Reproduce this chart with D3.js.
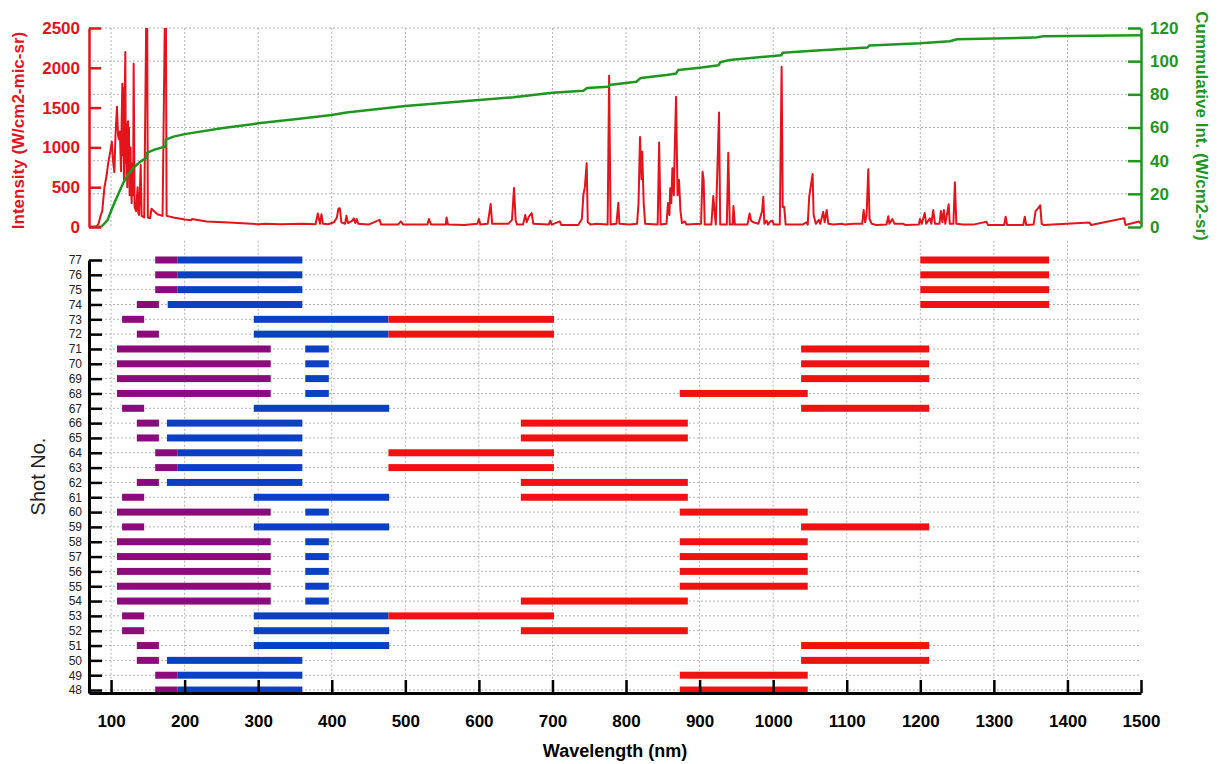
<!DOCTYPE html>
<html>
<head>
<meta charset="utf-8">
<script src="https://cdn.jsdelivr.net/npm/d3@7"></script>
<style>
  html, body { margin: 0; padding: 0; background: #fff; }
  svg { display: block; font-family: "Liberation Sans", Arial, sans-serif; }
</style>
</head>
<body>
<svg id="chart" width="1222" height="764"></svg>
<script>
// ---------------- DATA ----------------
// Spectrum: [wavelength nm, intensity W/cm2-mic-sr]
const spectrum = [
  [70,0],[80,5],[83,40],[86,150],[88,200],[91,500],[94,650],[96,800],[99,950],[101,1070],[103,800],[104.5,690],
  [106,1150],[108,1510],[109.5,1150],[111,1100],[112,1200],[113.5,700],[114.3,1300],[115.3,1800],[116,900],[116.5,1750],
  [117.5,600],[118.3,1500],[119.4,2200],[120,800],[120.5,1300],[121,600],[121.5,1200],[122,500],[123,1330],[123.6,700],
  [124.3,1250],[125.2,400],[125.8,900],[126.5,1000],[127.2,500],[128,300],[129,800],[130,400],[130.7,2050],
  [132,250],[134,200],[136,500],[137,180],[138,150],[140.3,780],[141.5,140],[145,120],[148.8,3500],[150,120],[153,110],[155,230],
  [157,210],[163,160],[170,140],[174.2,3500],[175.5,140],[185,120],[200,95],[209,85],[210,100],[230,70],[260,55],
  [300,35],[310,40],[330,35],[360,40],[378,35],[381,170],[384,40],[386,160],[388,40],[395,35],[403,60],[407,120],
  [409,230],[411,235],[413,60],[418,40],[420,140],[422,50],[428,80],[430,110],[432,50],[434,100],[436,40],[450,30],
  [465,90],[467,30],[490,30],[494,70],[497,30],[530,30],[532,100],[535,30],[555,30],[556,120],[558,30],[580,25],
  [598,40],[600,100],[602,30],[612,40],[616,290],[618,40],[640,40],[645,90],[647.7,490],[650,80],[652,30],[660,30],
  [663,150],[665,60],[668,130],[671.7,176],[674,40],[695,30],[697,80],[699,30],[710,70],[712,25],[735,25],[740,100],
  [742,400],[744,500],[746.5,800],[748,60],[752,30],[760,40],[775,30],[777,1900],[779,30],[787,40],[789.5,305],
  [791,40],[805,30],[815,40],[817,300],[819,1130],[821,600],[822,946],[824,300],[826,40],[843,30],[845,1060],[847,30],
  [855,40],[857,300],[859,150],[860,486],[861.5,300],[863,737],[865,400],[866,900],[868,1637],[870,400],[872,590],
  [874,200],[876,50],[880,70],[882,30],[902,40],[904,695],[905.5,590],[907,30],[916,30],[918.6,390],[920,220],[922,30],
  [926.4,1440],[928,30],[937,30],[939,933],[941,30],[945,30],[946,264],[948,30],[965,30],[968,170],[970,80],[973,60],
  [980,40],[985,200],[986.6,380],[988,40],[991,80],[993,30],[996,70],[999,80],[1001,30],[1009,30],[1011.5,2013],
  [1013,250],[1015,250],[1017,30],[1040,30],[1045,60],[1047,30],[1049,380],[1053.6,666],[1055,150],[1058,40],
  [1062,90],[1064,40],[1068,190],[1070,60],[1072.7,214],[1075,40],[1082,30],[1094,40],[1097,30],[1110,40],[1121,40],
  [1123,213],[1125,60],[1127,150],[1129.3,724],[1131,100],[1134,40],[1140,25],[1154,30],[1156.5,135],[1158,40],
  [1162,100],[1165,40],[1177,40],[1180,25],[1198,30],[1199.5,100],[1202,40],[1206,176],[1208,40],[1213,110],[1215,40],
  [1217.6,213],[1220,40],[1226,40],[1228,200],[1230,60],[1232,213],[1234,40],[1238.6,285],[1240,40],[1245,40],
  [1247,561],[1249,40],[1258,30],[1272,30],[1290,65],[1292,25],[1314,25],[1316,130],[1318,25],[1340,25],[1342,130],
  [1344,25],[1354,30],[1356.7,200],[1360,235],[1363,272],[1365,40],[1368,25],[1430,55],[1432,25],[1477,110],[1479,25],
  [1497,70],[1500,40]
];

// Cumulative intensity: [wavelength nm, W/cm2-sr]
const cumulative = [
  [70,0],[87,0.3],[95,4],[103,13],[110,20],[117,27],[124,32],[130,35.5],[140,39.5],[148.5,41.8],[149,44.8],
  [160,46.8],[174,48.5],[174.5,52.7],[185,54.5],[200,56],[250,59.5],[300,62.5],[350,65],[400,67.5],[420,69],
  [500,73],[600,76.6],[647,78.2],[700,81],[742,82.2],[747,83.8],[776,84.6],[777,85.6],[814,87.6],[820,89.9],
  [855,91.7],[868,92.5],[871,94.7],[900,96.1],[926,97.5],[928,99.3],[941,100.7],[1000,103.1],[1011,103.5],
  [1013,105.1],[1054,106.3],[1128,108.2],[1131,109.5],[1200,110.8],[1240,112],[1250,113.2],[1356,114.2],
  [1367,115],[1500,115.6]
];

const shots = [77,76,75,74,73,72,71,70,69,68,67,66,65,64,63,62,61,60,59,58,57,56,55,54,53,52,51,50,49,48];
const purpleBands = [[160,190],[160,190],[160,190],[135,165],[115,145],[135,165],[108,317],[108,317],[108,317],[108,317],
  [115,145],[135,165],[135,165],[160,190],[160,190],[135,165],[115,145],[108,317],[115,145],[108,317],
  [108,317],[108,317],[108,317],[108,317],[115,145],[115,145],[135,165],[135,165],[160,190],[160,190]];
const blueBands = [[190,360],[190,360],[190,360],[177,360],[294,477],[294,477],[364,396],[364,396],[364,396],[364,396],
  [294,478],[176,360],[176,360],[190,360],[190,360],[176,360],[294,478],[364,396],[294,478],[364,396],
  [364,396],[364,396],[364,396],[364,396],[294,477],[294,478],[294,478],[176,360],[190,360],[190,360]];
const redBands = [[1200,1375],[1200,1375],[1200,1375],[1200,1375],[477,702],[477,702],[1038,1212],[1038,1212],[1038,1212],[873,1047],
  [1038,1212],[657,884],[657,884],[477,702],[477,702],[657,884],[657,884],[873,1047],[1038,1212],[873,1047],
  [873,1047],[873,1047],[873,1047],[657,884],[477,702],[657,884],[1038,1212],[1038,1212],[873,1047],[873,1047]];

const wlTicks = [100,200,300,400,500,600,700,800,900,1000,1100,1200,1300,1400,1500];
const intTicks = [0,500,1000,1500,2000,2500];
const cumTicks = [0,20,40,60,80,100,120];

// ---------------- STYLE ----------------
const RED = "#e3141b", GREEN = "#1f961f", PURPLE = "#8a0b79", BLUE = "#0b3fc4", BARRED = "#f01212";
const GRID = "#b4b4b4";
const FONT = "Liberation Sans, Arial, sans-serif";
const fmt = d3.format("d");

const svg = d3.select("#chart");

const x = d3.scaleLinear().domain([70,1500]).range([89,1141]);
const yI = d3.scaleLinear().domain([0,2500]).range([227,28]);
const yC = d3.scaleLinear().domain([0,120]).range([227,28]);
const yS = d3.scaleLinear().domain([47.8,77]).range([693,260]);

// ---------------- GRID ----------------
const grid = svg.append("g").attr("stroke", GRID).attr("stroke-width", 1).attr("stroke-dasharray", "2,2");
grid.selectAll(".vt").data(wlTicks.filter(d => d < 1500)).join("line")
  .attr("x1", d => x(d)).attr("x2", d => x(d)).attr("y1", yI(2500)).attr("y2", yI(0));
grid.selectAll(".ht").data(cumTicks.filter(d => d > 0)).join("line")
  .attr("x1", x(70)).attr("x2", x(1500)).attr("y1", d => yC(d)).attr("y2", d => yC(d));
grid.selectAll(".vb").data(wlTicks.filter(d => d < 1500)).join("line")
  .attr("x1", d => x(d)).attr("x2", d => x(d)).attr("y1", yS(78.3)).attr("y2", yS(47.8));
grid.selectAll(".hb").data(shots).join("line")
  .attr("x1", x(70)).attr("x2", x(1500)).attr("y1", d => yS(d)).attr("y2", d => yS(d));

// ---------------- TOP PANEL ----------------
svg.append("clipPath").attr("id", "clipTop").append("rect")
  .attr("x", x(70)).attr("y", yI(2500)).attr("width", x(1500) - x(70)).attr("height", yI(0) - yI(2500) + 3);

const specLine = d3.line().x(d => x(d[0])).y(d => yI(d[1]));
svg.append("path").datum(spectrum).attr("clip-path", "url(#clipTop)")
  .attr("d", specLine).attr("fill", "none").attr("stroke", RED).attr("stroke-width", 2).attr("stroke-linejoin", "round");

const cumLine = d3.line().x(d => x(d[0])).y(d => yC(d[1]));
svg.append("path").datum(cumulative).attr("clip-path", "url(#clipTop)")
  .attr("d", cumLine).attr("fill", "none").attr("stroke", GREEN).attr("stroke-width", 2.5).attr("stroke-linejoin", "round");

const axL = svg.append("g").attr("transform", `translate(${x(70)},0)`)
  .call(d3.axisLeft(yI).tickValues(intTicks).tickFormat(fmt).tickSizeInner(-12).tickSizeOuter(0).tickPadding(9));
axL.select(".domain").attr("stroke", RED).attr("stroke-width", 2.5);
axL.selectAll(".tick line").attr("stroke", RED).attr("stroke-width", 2.5);
axL.selectAll(".tick text").attr("fill", RED).attr("font-size", 17).attr("font-weight", "bold").attr("font-family", FONT);

const axR = svg.append("g").attr("transform", `translate(${x(1500)},0)`)
  .call(d3.axisRight(yC).tickValues(cumTicks).tickFormat(fmt).tickSizeInner(-13).tickSizeOuter(0).tickPadding(9));
axR.select(".domain").attr("stroke", GREEN).attr("stroke-width", 2.5);
axR.selectAll(".tick line").attr("stroke", GREEN).attr("stroke-width", 2.5);
axR.selectAll(".tick text").attr("fill", GREEN).attr("font-size", 17).attr("font-weight", "bold").attr("font-family", FONT);

svg.append("text").attr("transform", `translate(24,${(yI(0)+yI(2500))/2 + 3}) rotate(-90)`)
  .attr("text-anchor", "middle").attr("fill", RED).attr("font-size", 17).attr("font-weight", "bold")
  .text("Intensity (W/cm2-mic-sr)");
svg.append("text").attr("transform", `translate(1196,126) rotate(90)`)
  .attr("text-anchor", "middle").attr("fill", GREEN).attr("font-size", 17).attr("font-weight", "bold")
  .text("Cummulative Int. (W/cm2-sr)");

// ---------------- BOTTOM PANEL ----------------
const BAR_H = 7;
const bars = svg.append("g");
function drawBands(bands, color) {
  bars.selectAll(null).data(bands.map((b, i) => ({ s: shots[i], a: b[0], b: b[1] }))).join("rect")
    .attr("x", d => x(d.a)).attr("width", d => x(d.b) - x(d.a))
    .attr("y", d => yS(d.s) - BAR_H / 2).attr("height", BAR_H)
    .attr("fill", color);
}
drawBands(purpleBands, PURPLE);
drawBands(blueBands, BLUE);
drawBands(redBands, BARRED);

const axX = svg.append("g").attr("transform", `translate(0,${yS(47.8)})`)
  .call(d3.axisBottom(x).tickValues(wlTicks).tickFormat(fmt).tickSizeInner(-13).tickSizeOuter(0).tickPadding(22));
axX.select(".domain").attr("stroke", "#000").attr("stroke-width", 3);
axX.selectAll(".tick line").attr("stroke", "#000").attr("stroke-width", 2.5);
axX.selectAll(".tick text").attr("fill", "#000").attr("font-size", 17).attr("font-weight", "bold").attr("font-family", FONT);

const axS = svg.append("g").attr("transform", `translate(${x(70)},0)`)
  .call(d3.axisLeft(yS).tickValues(shots).tickFormat(fmt).tickSizeInner(-13).tickSizeOuter(0).tickPadding(7));
axS.select(".domain").attr("stroke", "#000").attr("stroke-width", 3);
axS.selectAll(".tick line").attr("stroke", "#000").attr("stroke-width", 2.5);
axS.selectAll(".tick text").attr("fill", "#222").attr("font-size", 12).attr("font-family", FONT);

svg.append("text").attr("transform", `translate(45,${(yS(47.8)+yS(77))/2}) rotate(-90)`)
  .attr("text-anchor", "middle").attr("fill", "#222").attr("font-size", 20)
  .text("Shot No.");

svg.append("text").attr("x", (x(70) + x(1500)) / 2).attr("y", 757)
  .attr("text-anchor", "middle").attr("fill", "#000").attr("font-size", 18).attr("font-weight", "bold")
  .text("Wavelength (nm)");
</script>
</body>
</html>
